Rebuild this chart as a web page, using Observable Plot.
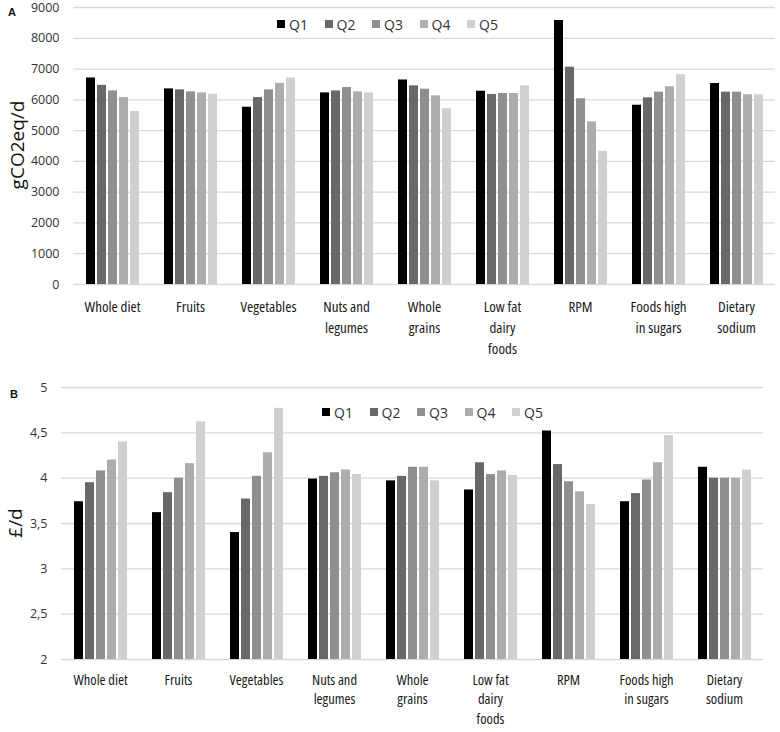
<!DOCTYPE html>
<html>
<head>
<meta charset="utf-8">
<script src="https://cdn.jsdelivr.net/npm/d3@7"></script>
<script src="https://cdn.jsdelivr.net/npm/@observablehq/plot@0.6"></script>
<style>
  body { margin: 0; background: #fff; }
  #wrap { position: relative; width: 780px; height: 732px; overflow: hidden; font-family: "Open Sans", sans-serif; color: #222; }
  .panel { position: absolute; left: 0; overflow: visible; }
  .panel .fxlab text { font-stretch: 75%; }
  .ylab { position: absolute; transform: translate(-50%, -50%) rotate(-90deg); font-size: 19px; white-space: nowrap; font-family: "Open Sans", sans-serif; color: #111; }
  .tag { position: absolute; font: bold 11px "Liberation Sans", sans-serif; color: #111; }
  .legend { position: absolute; display: flex; font-family: "Open Sans", sans-serif; font-size: 14px; color: #333; }
  .legend .item { width: 47.5px; display: flex; align-items: center; white-space: nowrap; }
  .legend .sw { width: 8px; height: 8px; margin-right: 4px; display: inline-block; }
</style>
</head>
<body>
<div id="wrap"></div>
<script>
// ---- data ----
const categories = ["Whole diet", "Fruits", "Vegetables", "Nuts and legumes", "Whole grains", "Low fat dairy foods", "RPM", "Foods high in sugars", "Dietary sodium"];
const tickLabels = ["Whole diet", "Fruits", "Vegetables", "Nuts and\nlegumes", "Whole\ngrains", "Low fat\ndairy\nfoods", "RPM", "Foods high\nin sugars", "Dietary\nsodium"];
const quintiles = ["Q1", "Q2", "Q3", "Q4", "Q5"];
const shades = ["#000000", "#686868", "#8f8f8f", "#adadad", "#d0d0d0"];

// Panel A: gCO2eq/d
const ghgQ1 = [6710, 6355, 5760, 6225, 6645, 6280, 8580, 5825, 6530];
const ghgQ2 = [6470, 6325, 6075, 6290, 6455, 6175, 7060, 6065, 6250];
const ghgQ3 = [6290, 6260, 6325, 6400, 6345, 6205, 6035, 6250, 6250];
const ghgQ4 = [6075, 6225, 6535, 6260, 6130, 6205, 5285, 6425, 6165];
const ghgQ5 = [5620, 6180, 6710, 6225, 5710, 6455, 4330, 6815, 6165];
const ticksA = [0, 1000, 2000, 3000, 4000, 5000, 6000, 7000, 8000, 9000];

// Panel B: £/d
const costQ1 = [3.74, 3.62, 3.40, 3.99, 3.97, 3.87, 4.52, 3.74, 4.12];
const costQ2 = [3.95, 3.84, 3.77, 4.02, 4.02, 4.17, 4.15, 3.83, 4.00];
const costQ3 = [4.08, 4.00, 4.02, 4.06, 4.12, 4.04, 3.96, 3.98, 4.00];
const costQ4 = [4.20, 4.16, 4.28, 4.09, 4.12, 4.08, 3.85, 4.17, 4.00];
const costQ5 = [4.40, 4.62, 4.77, 4.04, 3.97, 4.03, 3.71, 4.47, 4.09];
const ticksB = [2, 2.5, 3, 3.5, 4, 4.5, 5];
const baseB = 2;

// ---- build ----
function rows(series) {
  return categories.flatMap((c, i) => quintiles.map((q, j) => ({category: c, quintile: q, value: series[j][i]})));
}
const rowsA = rows([ghgQ1, ghgQ2, ghgQ3, ghgQ4, ghgQ5]);
const rowsB = rows([costQ1, costQ2, costQ3, costQ4, costQ5]);
const labelOf = d => tickLabels[categories.indexOf(d)];

const labelFont = "'Liberation Sans Narrow', 'Open Sans', sans-serif";
const tickFont = "'Open Sans', sans-serif";

function panel({data, height, marginTop, marginBottom, marginLeft, marginRight, ticks, domain, fmt, base, pad, lh, fs}) {
  return Plot.plot({
    width: 780, height, marginTop, marginBottom, marginLeft, marginRight,
    style: {background: "transparent", fontFamily: tickFont, color: "#222"},
    fx: {domain: categories, padding: 0, label: null},
    x: {domain: quintiles, paddingInner: 0.21, paddingOuter: 0.87, axis: null},
    y: {domain, label: null},
    color: {domain: quintiles, range: shades},
    marks: [
      Plot.gridY({ticks, stroke: "#d9d9d9", strokeOpacity: 1, strokeWidth: 1.3}),
      Plot.barY(data, {fx: "category", x: "quintile", y1: base, y2: "value", fill: "quintile"}),
      Plot.axisY({ticks, tickSize: 0, tickPadding: 14, label: null, tickFormat: fmt, fontSize: 12.5, fontFamily: tickFont, fill: "#333"}),
      Plot.axisFx({anchor: "bottom", tickSize: 0, tickPadding: pad, label: null, tickFormat: labelOf, fontSize: fs, lineHeight: lh, fontFamily: labelFont, fill: "#1a1a1a", className: "fxlab"})
    ]
  });
}

const wrap = document.getElementById("wrap");

const a = panel({data: rowsA, height: 375, marginTop: 7, marginBottom: 91, marginLeft: 71, marginRight: 3,
  ticks: ticksA, domain: [0, 9000], fmt: d => String(d), base: 0, pad: 13, lh: 1.38, fs: 15});
a.classList.add("panel"); a.style.top = "0px";
wrap.appendChild(a);

const b = panel({data: rowsB, height: 357, marginTop: 12, marginBottom: 73, marginLeft: 59, marginRight: 15,
  ticks: ticksB, domain: [2, 5], fmt: d => String(d).replace(".", ","), base: baseB, pad: 11, lh: 1.37, fs: 14.5});
b.classList.add("panel"); b.style.top = "375px";
wrap.appendChild(b);

// condense the category labels
document.querySelectorAll(".panel .fxlab text").forEach(t => t.style.fontStretch = "75%");

function addDiv(cls, text, css) {
  const el = document.createElement("div");
  el.className = cls; el.textContent = text;
  Object.assign(el.style, css);
  wrap.appendChild(el);
  return el;
}
addDiv("ylab", "gCO2eq/d", {left: "17px", top: "145px"});
addDiv("ylab", "£/d", {left: "15px", top: "523px"});
addDiv("tag", "A", {left: "8px", top: "6px"});
addDiv("tag", "B", {left: "10px", top: "388px"});

function legend(left, centerY) {
  const lg = document.createElement("div");
  lg.className = "legend";
  lg.style.left = left + "px";
  lg.style.top = (centerY - 10) + "px";
  lg.style.height = "20px";
  quintiles.forEach((q, i) => {
    const it = document.createElement("div"); it.className = "item";
    const sw = document.createElement("span"); sw.className = "sw"; sw.style.background = shades[i];
    const t = document.createElement("span"); t.textContent = q;
    it.appendChild(sw); it.appendChild(t); lg.appendChild(it);
  });
  wrap.appendChild(lg);
}
legend(277, 24);
legend(322, 412);
</script>
</body>
</html>
